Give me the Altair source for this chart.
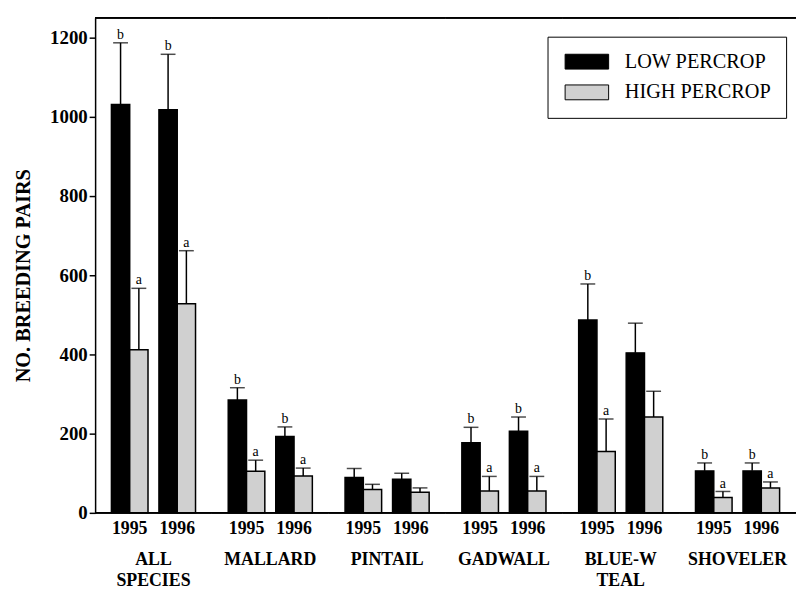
import altair as alt
import pandas as pd

species = ["ALL SPECIES", "MALLARD", "PINTAIL", "GADWALL", "BLUE-W TEAL", "SHOVELER"]
years = ["1995", "1996"]
series = ["LOW PERCROP", "HIGH PERCROP"]

# values per species, [1995, 1996]
low_mean = [[1031, 1018], [285, 193], [89, 85], [177, 206], [487, 404], [106, 106]]
low_upper = [[1187, 1158], [316, 217], [112, 100], [216, 242], [578, 479], [126, 126]]
low_letter = [["b", "b"], ["b", "b"], ["", ""], ["b", "b"], ["b", ""], ["b", "b"]]
high_mean = [[412, 528], [105, 93], [59, 52], [55, 55], [155, 242], [39, 63]]
high_upper = [[567, 662], [133, 113], [72, 63], [92, 92], [237, 307], [54, 78]]
high_letter = [["a", "a"], ["a", "a"], ["", ""], ["a", "a"], ["a", ""], ["a", "a"]]

rows = []
for i, sp in enumerate(species):
    for j, yr in enumerate(years):
        rows.append(dict(species=sp, year=yr, series=series[0], mean=low_mean[i][j],
                         upper=low_upper[i][j], letter=low_letter[i][j]))
        rows.append(dict(species=sp, year=yr, series=series[1], mean=high_mean[i][j],
                         upper=high_upper[i][j], letter=high_letter[i][j]))
df = pd.DataFrame(rows)

FONT = "'Liberation Serif', 'Times New Roman', 'DejaVu Serif', serif"
YTITLE = "NO. BREEDING PAIRS"

base = alt.Chart(df)

xscale = alt.Scale(paddingInner=0.23, paddingOuter=0.343)
x = alt.X("year:N", sort=years, title=None, scale=xscale,
          axis=alt.Axis(labelAngle=0, ticks=False, domain=False,
                        labelFont=FONT, labelFontSize=18, labelFontWeight="bold",
                        labelColor="black", labelPadding=6))
xo = alt.XOffset("series:N", sort=series, scale=alt.Scale(paddingInner=0, paddingOuter=0))
yscale = alt.Scale(domain=[0, 1250], nice=False)
yaxis = alt.Axis(values=[0, 200, 400, 600, 800, 1000, 1200], format="d", grid=False,
                 domainColor="black", domainWidth=1.5, tickColor="black", tickWidth=1.5,
                 tickSize=6, labelFont=FONT, labelFontSize=19, labelFontWeight="bold",
                 labelColor="black", labelPadding=2, titleFont=FONT, titleFontSize=20.5,
                 titleFontWeight="bold", titleColor="black", titlePadding=16.5, titleY=260)

bars = base.mark_bar(stroke="black", strokeWidth=1.5).encode(
    x=x, xOffset=xo,
    y=alt.Y("mean:Q", scale=yscale, axis=yaxis, title=YTITLE),
    color=alt.Color("series:N", sort=series,
                    scale=alt.Scale(domain=series, range=["#000000", "#d0d0d0"]),
                    legend=alt.Legend(title=None, orient="none", legendX=457, legendY=19,
                                      direction="vertical", strokeColor="black",
                                      fillColor="white", padding=15,
                                      symbolType="M-2.93,-1H2.93V1H-2.93Z", symbolSize=225,
                                      symbolOffset=14.5,
                                      symbolStrokeColor="black", symbolStrokeWidth=1,
                                      symbolOpacity=1, labelFont=FONT, labelFontSize=20.5,
                                      labelColor="black", labelOffset=28, rowPadding=10)),
)
err = base.mark_rule(color="black", strokeWidth=1.5).encode(
    x=x, xOffset=xo,
    y=alt.Y("mean:Q", scale=yscale, axis=yaxis, title=YTITLE),
    y2="upper:Q",
)
caps = base.mark_tick(color="black", thickness=1.5, size=15).encode(
    x=x, xOffset=xo,
    y=alt.Y("upper:Q", scale=yscale, axis=yaxis, title=YTITLE),
)
letters = base.mark_text(font=FONT, fontSize=14, baseline="bottom", dy=-1, color="black").encode(
    x=x, xOffset=xo,
    y=alt.Y("upper:Q", scale=yscale, axis=yaxis, title=YTITLE),
    text="letter:N",
)
# frame lines drawn as unstroked rects so the cells join without gaps
top_line = base.mark_rect(color="black", yOffset=-0.75, y2Offset=0.75).encode(
    y=alt.datum(1250), y2=alt.datum(1250))
bottom_line = base.mark_rect(color="black", yOffset=0.75, y2Offset=-0.75).encode(
    y=alt.datum(0), y2=alt.datum(0))

layered = alt.layer(bars, err, caps, letters, top_line, bottom_line).properties(
    width=117.9, height=500)

chart = layered.facet(
    column=alt.Column("species:N", sort=species, title=None,
                      header=alt.Header(labelOrient="bottom", labelFont=FONT, labelFontSize=18,
                                        labelFontWeight="bold", labelColor="black",
                                        labelPadding=14, labelExpr="split(datum.value, ' ')",
                                        labelLineHeight=21)),
    spacing=0,
).properties(
    padding={"left": 5, "top": 6, "right": 0, "bottom": 0}
).configure_view(stroke=None)

chart.save("out.html", embed_options={"renderer": "svg", "actions": False})
